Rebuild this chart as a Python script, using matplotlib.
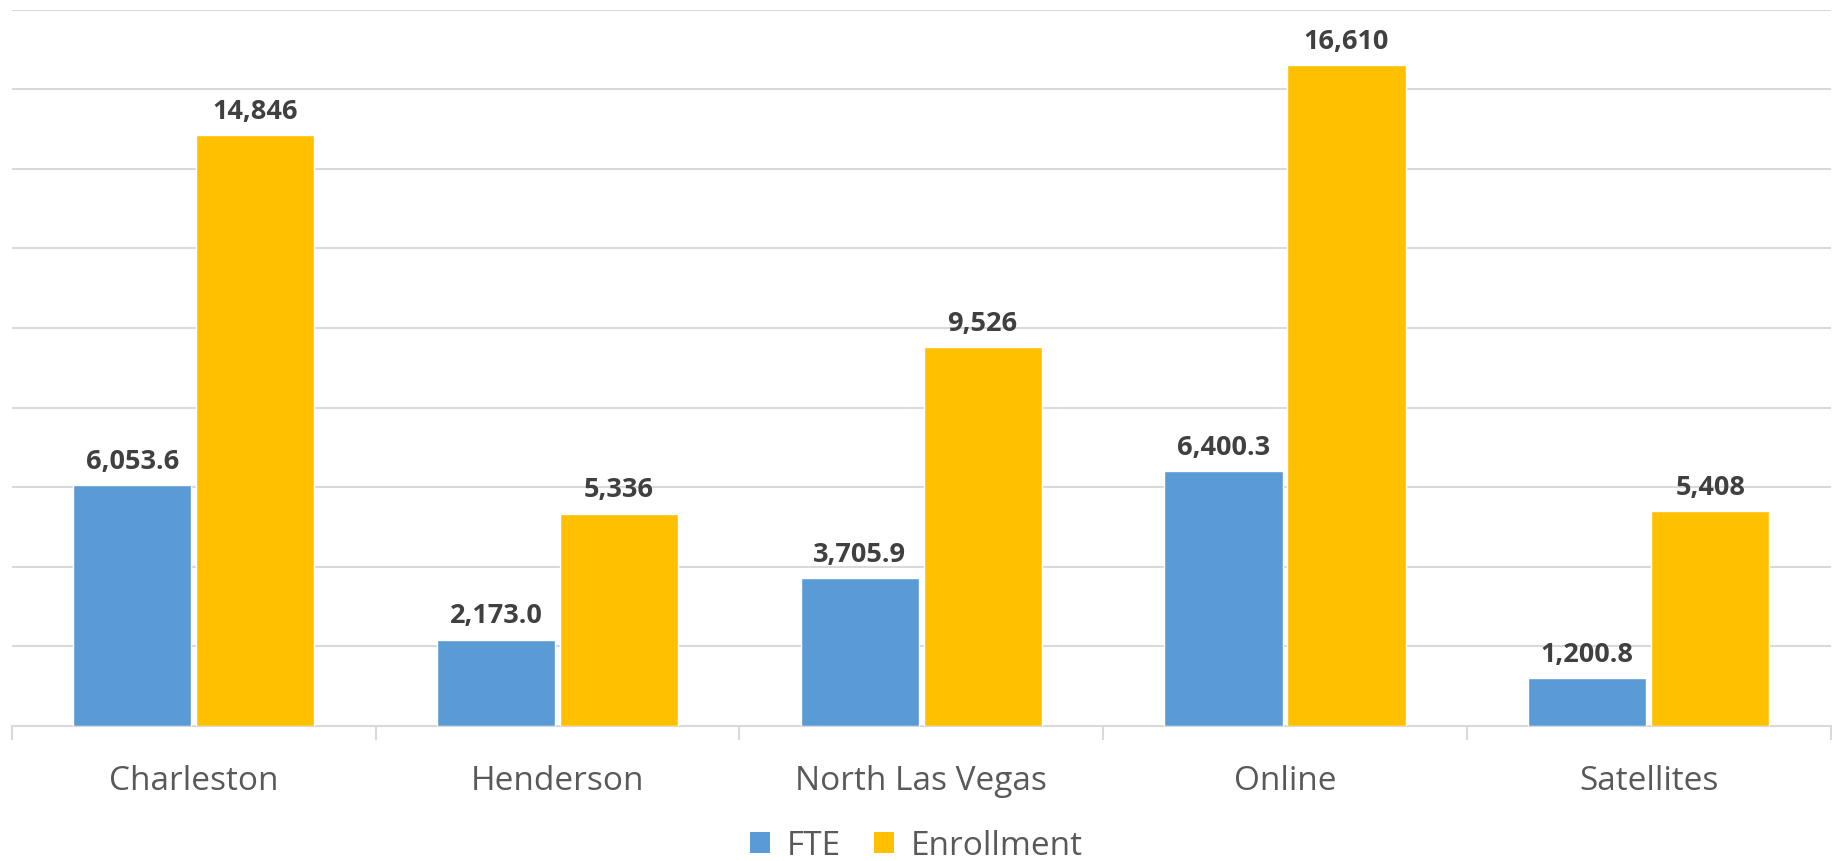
import matplotlib
matplotlib.use("Agg")
import matplotlib.pyplot as plt
import numpy as np
from matplotlib.patches import Patch

categories = ["Charleston", "Henderson", "North Las Vegas", "Online", "Satellites"]
fte = [6053.6, 2173.0, 3705.9, 6400.3, 1200.8]
enrollment = [14846, 5336, 9526, 16610, 5408]
fte_labels = ["6,053.6", "2,173.0", "3,705.9", "6,400.3", "1,200.8"]
enr_labels = ["14,846", "5,336", "9,526", "16,610", "5,408"]

plt.rcParams['font.family'] = ['Open Sans', 'DejaVu Sans']

blue = "#5B9BD5"
gold = "#FFC000"

fig = plt.figure(figsize=(18.33, 8.62), dpi=100)
ax = fig.add_axes([0.0064, 0.1566, 0.9923, 0.8312])

x = np.arange(len(categories))
w = 0.325
gap = 0.0065
b1 = ax.bar(x - w/2 - gap, fte, w, color=blue, edgecolor="white", linewidth=1.0, zorder=3)
b2 = ax.bar(x + w/2 + gap, enrollment, w, color=gold, edgecolor="white", linewidth=1.0, zorder=3)

for bars, labs in ((b1, fte_labels), (b2, enr_labels)):
    for rect, lab in zip(bars, labs):
        ax.annotate(lab, (rect.get_x() + rect.get_width()/2, rect.get_height()),
                    xytext=(0, 8), textcoords="offset points", ha="center", va="bottom",
                    fontsize=19.5, fontweight="bold", color="#404040")

ax.set_xlim(-0.5, len(categories) - 0.5)
ax.set_ylim(0, 18000)
ax.set_yticks(np.arange(2000, 18001, 2000))
ax.yaxis.grid(True, color="#D9D9D9", linewidth=1.5, zorder=0)
ax.tick_params(axis="y", left=False, labelleft=False)
for s in ["top", "right", "left"]:
    ax.spines[s].set_visible(False)
ax.spines["bottom"].set_color("#D9D9D9")
ax.spines["bottom"].set_linewidth(1.5)
ax.spines["bottom"].set_zorder(2)

ax.set_xticks(x)
ax.set_xticklabels(categories, fontsize=24, color="#595959")
ax.tick_params(axis="x", length=0, pad=27)
ax.set_xticks(np.arange(-0.5, len(categories), 1.0), minor=True)
ax.tick_params(axis="x", which="minor", length=10, width=1.5, color="#D9D9D9")

handles = [Patch(facecolor=blue, label="FTE"), Patch(facecolor=gold, label="Enrollment")]
fig.legend(handles=handles, loc="center", bbox_to_anchor=(0.5, 0.018), ncol=2, frameon=False,
           fontsize=24, labelcolor="#595959", handlelength=0.6, handleheight=0.6,
           handletextpad=0.5, columnspacing=1.0, borderpad=0)

fig.savefig("out.png", dpi=100)
